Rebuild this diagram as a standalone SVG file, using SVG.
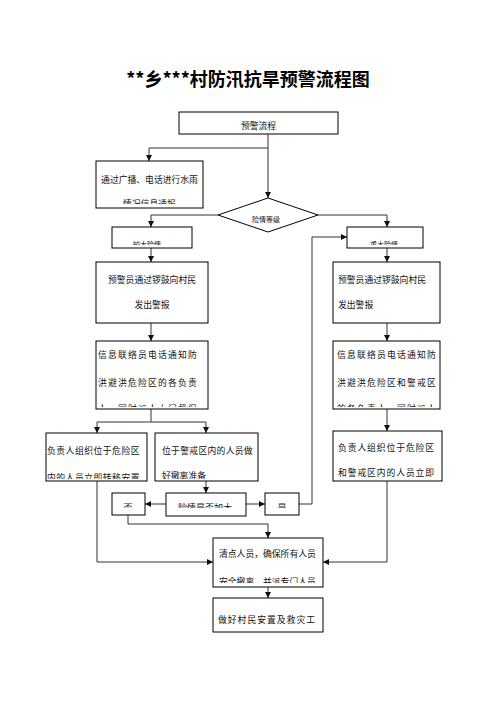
<svg xmlns="http://www.w3.org/2000/svg" width="496" height="702" viewBox="0 0 496 702">
<style>
.box{fill:#fff;stroke:#000;stroke-width:1}
.t{font-family:"Noto Sans CJK SC","Liberation Sans",sans-serif;font-size:8.8px;fill:#111}
.w{letter-spacing:1.2px}
.c{text-anchor:middle}
.s{font-size:7px}
.ln{fill:none;stroke:#333;stroke-width:1}
</style>
<defs>
<marker id="ah" viewBox="0 0 6 6" refX="6" refY="3" markerWidth="6" markerHeight="6" orient="auto" markerUnits="userSpaceOnUse">
<path d="M0,0 L6,3 L0,6 z" fill="#111"/>
</marker>
<clipPath id="c1"><rect x="96" y="161" width="107" height="43"/></clipPath>
<clipPath id="c2"><rect x="112" y="227" width="80" height="18"/></clipPath>
<clipPath id="c3"><rect x="347" y="227" width="76" height="18"/></clipPath>
<clipPath id="c4"><rect x="96" y="341" width="112" height="66"/></clipPath>
<clipPath id="c5"><rect x="333" y="341" width="107" height="66"/></clipPath>
<clipPath id="c6"><rect x="46" y="433" width="101" height="46"/></clipPath>
<clipPath id="c7"><rect x="155" y="433" width="103" height="46"/></clipPath>
<clipPath id="c8"><rect x="333" y="431" width="109" height="48"/></clipPath>
<clipPath id="c9"><rect x="166" y="493" width="80" height="15"/></clipPath>
<clipPath id="c10"><rect x="112" y="493" width="33" height="15"/></clipPath>
<clipPath id="c11"><rect x="265" y="493" width="34" height="15"/></clipPath>
<clipPath id="c12"><rect x="213" y="538" width="110" height="45"/></clipPath>
</defs>
<text x="248" y="86" text-anchor="middle" style="font-family:'Noto Sans CJK SC','Liberation Sans',sans-serif;font-size:18px;font-weight:bold">**乡***村防汛抗旱预警流程图</text>
<g id="connectors">
<path class="ln" d="M268,134 V198" marker-end="url(#ah)"/>
<path class="ln" d="M268,148 H149 V161" marker-end="url(#ah)"/>
<path class="ln" d="M218,215 H151 V227" marker-end="url(#ah)"/>
<path class="ln" d="M318,215 H387 V227" marker-end="url(#ah)"/>
<path class="ln" d="M151,248 V262" marker-end="url(#ah)"/>
<path class="ln" d="M387,248 V262" marker-end="url(#ah)"/>
<path class="ln" d="M151,323 V341" marker-end="url(#ah)"/>
<path class="ln" d="M387,323 V341" marker-end="url(#ah)"/>
<path class="ln" d="M151,409 V422 M97,422 H206"/>
<path class="ln" d="M97,422 V433" marker-end="url(#ah)"/>
<path class="ln" d="M206,422 V433" marker-end="url(#ah)"/>
<path class="ln" d="M387,409 V431" marker-end="url(#ah)"/>
<path class="ln" d="M206,481 V493" marker-end="url(#ah)"/>
<path class="ln" d="M166,504 H145" marker-end="url(#ah)"/>
<path class="ln" d="M246,504 H265" marker-end="url(#ah)"/>
<path class="ln" d="M299,504 H312 V237 H347" marker-end="url(#ah)"/>
<path class="ln" d="M128,515 V524 H268 V538" marker-end="url(#ah)"/>
<path class="ln" d="M97,481 V562 H213" marker-end="url(#ah)"/>
<path class="ln" d="M387,481 V562 H323" marker-end="url(#ah)"/>
<path class="ln" d="M268,587 V598" marker-end="url(#ah)"/>
</g>
<g id="n1"><rect class="box" x="179" y="112" width="159" height="22"/><text class="t c" x="258.5" y="129">预警流程</text></g>
<g id="n2"><rect class="box" x="96" y="161" width="107" height="47"/>
<g clip-path="url(#c1)"><text class="t c" x="149.5" y="183">通过广播、电话进行水雨</text><text class="t c" x="149.5" y="207">情况信息通报</text></g></g>
<g id="n3"><path class="box" d="M268,198 L318,215 L268,232 L218,215 Z"/><text class="t c s" x="266" y="222">险情等级</text></g>
<g id="n4"><rect class="box" x="112" y="227" width="80" height="21"/><g clip-path="url(#c2)"><text class="t c s" x="147" y="247">较大险情</text></g></g>
<g id="n5"><rect class="box" x="347" y="227" width="76" height="21"/><g clip-path="url(#c3)"><text class="t c s" x="384" y="247">重大险情</text></g></g>
<g id="n6"><rect class="box" x="96" y="262" width="112" height="61"/><text class="t c" x="152" y="283">预警员通过锣鼓向村民</text><text class="t c" x="152" y="308">发出警报</text></g>
<g id="n7"><rect class="box" x="333" y="262" width="107" height="61"/><text class="t" x="338" y="283">预警员通过锣鼓向村民</text><text class="t" x="338" y="308">发出警报</text></g>
<g id="n8"><rect class="box" x="96" y="341" width="112" height="68"/><g clip-path="url(#c4)"><text class="t w" x="98" y="358">信息联络员电话通知防</text><text class="t w" x="98" y="386">洪避洪危险区的各负责</text><text class="t w" x="98" y="412">人，同时派人上门督促</text></g></g>
<g id="n9"><rect class="box" x="333" y="341" width="107" height="68"/><g clip-path="url(#c5)"><text class="t w" x="337" y="358">信息联络员电话通知防</text><text class="t w" x="337" y="386">洪避洪危险区和警戒区</text><text class="t w" x="337" y="412">的各负责人，同时派人上</text></g></g>
<g id="n10"><rect class="box" x="46" y="433" width="101" height="48"/><g clip-path="url(#c6)"><text class="t" x="47" y="454" style="letter-spacing:0.5px">负责人组织位于危险区</text><text class="t" x="47" y="481" style="letter-spacing:0.5px">内的人员立即转移安置</text></g></g>
<g id="n11"><rect class="box" x="155" y="433" width="103" height="48"/><g clip-path="url(#c7)"><text class="t" x="162" y="454" style="letter-spacing:0.3px">位于警戒区内的人员做</text><text class="t" x="162" y="479">好撤离准备</text></g></g>
<g id="n12"><rect class="box" x="333" y="431" width="109" height="50"/><g clip-path="url(#c8)"><text class="t" x="338" y="451" style="letter-spacing:0.9px">负责人组织位于危险区</text><text class="t" x="338" y="476" style="letter-spacing:0.9px">和警戒区内的人员立即</text></g></g>
<g id="n13"><rect class="box" x="166" y="493" width="80" height="23"/><g clip-path="url(#c9)"><text class="t c" x="205" y="511" style="font-size:9px">险情是否加大</text></g></g>
<g id="n14"><rect class="box" x="112" y="493" width="33" height="22"/><g clip-path="url(#c10)"><text class="t c" x="128" y="511" style="font-size:9px">否</text></g></g>
<g id="n15"><rect class="box" x="265" y="493" width="34" height="22"/><g clip-path="url(#c11)"><text class="t c" x="282" y="511" style="font-size:9px">是</text></g></g>
<g id="n16"><rect class="box" x="213" y="538" width="110" height="49"/><g clip-path="url(#c12)"><text class="t" x="219" y="557">清点人员，确保所有人员</text><text class="t" x="219" y="585">安全撤离，并派专门人员</text></g></g>
<g id="n17"><rect class="box" x="213" y="598" width="110" height="34"/><text class="t" x="218" y="623" style="letter-spacing:1px">做好村民安置及救灾工</text></g>
</svg>
